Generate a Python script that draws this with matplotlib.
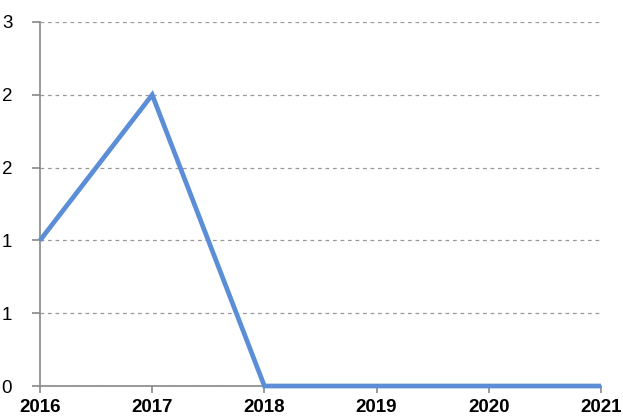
import matplotlib
matplotlib.use("Agg")
import matplotlib.pyplot as plt
from matplotlib.ticker import FuncFormatter

# data
years = [2016, 2017, 2018, 2019, 2020, 2021]
values = [1, 2, 0, 0, 0, 0]
y_ticks = [0, 0.5, 1.0, 1.5, 2.0, 2.5]

plt.rcParams['font.family'] = ['Liberation Sans', 'DejaVu Sans']

fig = plt.figure(figsize=(6.23, 4.19), dpi=100)
ax = fig.add_axes([40 / 623, 33 / 419, 561 / 623, 364 / 419])

ax.plot(years, values, color='#5B8ED6', linewidth=3.4, solid_capstyle='butt',
        solid_joinstyle='miter', zorder=3, clip_on=False)

ax.set_xlim(years[0], years[-1])
ax.set_ylim(0, 2.5)
ax.set_xticks(years)
ax.set_yticks(y_ticks)
# Excel-style rounding of half values
ax.yaxis.set_major_formatter(FuncFormatter(lambda v, p: str(int(v + 0.5))))

ax.grid(axis='y', linestyle=(0, (3, 3)), color='#999999', linewidth=0.9)
ax.set_axisbelow(True)

for side in ['top', 'right']:
    ax.spines[side].set_visible(False)
for side in ['left', 'bottom']:
    ax.spines[side].set_color('#888888')
    ax.spines[side].set_linewidth(1.2)

ax.tick_params(axis='y', direction='out', length=6, color='#888888', width=1.2,
               labelsize=13.5, pad=14)
ax.tick_params(axis='x', direction='out', length=5, color='#888888', width=1.2,
               labelsize=13.5, pad=4)
for lbl in ax.get_xticklabels():
    lbl.set_fontweight('bold')

fig.savefig('out.png', dpi=100)
